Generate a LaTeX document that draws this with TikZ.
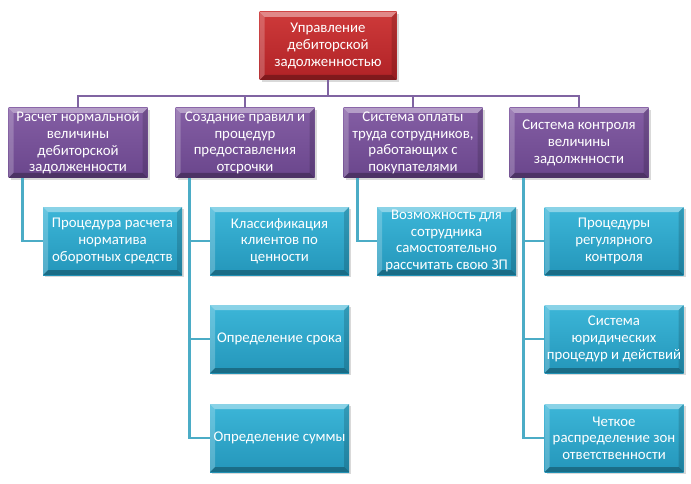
\documentclass[tikz,border=0pt]{standalone}
\usepackage{fontspec}
\setmainfont{Carlito}
\usepackage{tikz}
\usetikzlibrary{calc,shadows,positioning}

\definecolor{redtop}{RGB}{206,58,58}
\definecolor{redbot}{RGB}{176,34,38}
\definecolor{violettop}{RGB}{132,94,164}
\definecolor{violetbot}{RGB}{106,70,140}
\definecolor{tealtop}{RGB}{60,182,216}
\definecolor{tealbot}{RGB}{36,150,186}
\definecolor{violetline}{RGB}{128,100,162}
\definecolor{tealline}{RGB}{75,172,198}

\newcommand{\boxfont}{\fontsize{14.8}{16.7}\selectfont}

\tikzset{
  box/.style={rectangle, minimum width=139pt, minimum height=68pt, inner sep=0pt,
    align=center, text=white, font=\boxfont,
    drop shadow={shadow xshift=2pt, shadow yshift=-2pt, opacity=0.3},
    path picture={
      \coordinate (nw) at (path picture bounding box.north west);
      \coordinate (ne) at (path picture bounding box.north east);
      \coordinate (sw) at (path picture bounding box.south west);
      \coordinate (se) at (path picture bounding box.south east);
      \fill[white,opacity=.4] (nw) -- (ne) -- ([shift={(-5pt,-5pt)}]ne) -- ([shift={(5pt,-5pt)}]nw) -- cycle;
      \fill[white,opacity=.22] (nw) -- (sw) -- ([shift={(5pt,5pt)}]sw) -- ([shift={(5pt,-5pt)}]nw) -- cycle;
      \fill[black,opacity=.28] (sw) -- (se) -- ([shift={(-5pt,5pt)}]se) -- ([shift={(5pt,5pt)}]sw) -- cycle;
      \fill[black,opacity=.15] (ne) -- (se) -- ([shift={(-5pt,5pt)}]se) -- ([shift={(-5pt,-5pt)}]ne) -- cycle;
    }},
  topbox/.style={box, top color=redtop, bottom color=redbot, minimum width=137pt},
  headbox/.style={box, top color=violettop, bottom color=violetbot, minimum height=70pt},
  leafbox/.style={box, top color=tealtop, bottom color=tealbot},
  busline/.style={draw=violetline, line width=2.5pt},
  leafline/.style={draw=tealline, line width=2.5pt}
}

\begin{document}
\begin{tikzpicture}[x=1pt,y=-1pt]
  \useasboundingbox (0,0) rectangle (691,484);

  % top of the tree
  \node[topbox] (top) at (328,46) {Управление\\дебиторской\\задолженностью};
  \coordinate (bus) at (328,96);

  % first level
  \node[headbox] (rn) at (78,143) {Расчет нормальной\\величины\\дебиторской\\задолженности};
  \node[headbox] (sp) at (245,143) {Создание правил и\\процедур\\предоставления\\отсрочки};
  \node[headbox] (so) at (413,143) {Система оплаты\\труда сотрудников,\\работающих с\\покупателями};
  \node[headbox] (sk) at (579,143) {Система контроля\\величины\\задолжнности};

  % second level
  \node[leafbox] (rn1) at (112.5,241) {Процедура расчета\\норматива\\оборотных средств};
  \node[leafbox] (sp1) at (279.5,241) {Классификация\\клиентов по\\ценности};
  \node[leafbox] (sp2) at (279.5,339) {Определение срока};
  \node[leafbox] (sp3) at (279.5,438) {Определение суммы};
  \node[leafbox] (so1) at (446.5,241) {Возможность для\\сотрудника\\самостоятельно\\рассчитать свою ЗП};
  \node[leafbox] (sk1) at (614,241) {Процедуры\\регулярного\\контроля};
  \node[leafbox] (sk2) at (614,339) {Система\\юридических\\процедур и действий};
  \node[leafbox] (sk3) at (614,438) {Четкое\\распределение зон\\ответственности};

  % connectors
  \foreach \h in {rn,sp,so,sk}
    \draw[busline] (top.south) -- (bus) -| (\h.north);
  \foreach \h/\c in {rn/rn1,sp/sp1,sp/sp2,sp/sp3,so/so1,sk/sk1,sk/sk2,sk/sk3}
    \draw[leafline] ([xshift=14pt]\h.south west) |- (\c.west);
\end{tikzpicture}
\end{document}
